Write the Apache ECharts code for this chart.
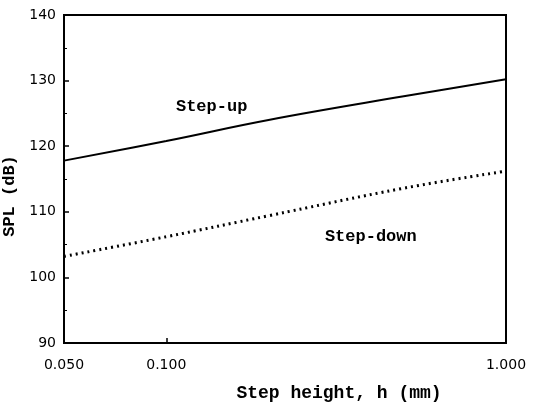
<!DOCTYPE html>
<html><head><meta charset="utf-8">
<script src="https://cdn.jsdelivr.net/npm/echarts@6/dist/echarts.min.js"></script>
<style>html,body{margin:0;padding:0;background:#fff}#c{width:533px;height:407px}</style>
</head><body><div id="c"></div>
<script>
var stepHeights = [0.05, 0.1, 0.2, 0.5, 1.0];
var stepUp =   [117.8, 120.8, 124.0, 127.6, 130.2];
var stepDown = [103.2, 106.2, 109.4, 113.6, 116.2];
var xTicks = [0.05, 0.1, 1.0];
var yTicks = [90, 100, 110, 120, 130, 140];

var chart = echarts.init(document.getElementById('c'));
var txt = {color:'#000', fontFamily:'Liberation Mono', fontWeight:'bold', fontSize:17};
chart.setOption({
  animation:false,
  grid:{left:64, right:27, top:15, bottom:64, show:true, borderColor:'#000', borderWidth:2,
    outerBoundsMode:'none', containLabel:false},
  xAxis:{type:'log', min:0.05, max:1, logBase:10,
    name:'Step height, h (mm)', nameLocation:'middle', nameGap:41,
    nameTextStyle:Object.assign({}, txt, {fontSize:18, padding:[0,0,0,108]}),
    axisLine:{lineStyle:{color:'#000', width:2}},
    axisTick:{inside:true, length:5, customValues:xTicks, lineStyle:{color:'#000', width:1.5}},
    minorTick:{show:false},
    splitLine:{show:false},
    axisLabel:{customValues:xTicks, color:'#000', fontFamily:'DejaVu Sans', fontSize:14, margin:15,
      formatter:function(v){return Number(v).toFixed(3);}}
  },
  yAxis:{type:'value', min:90, max:140, interval:10,
    name:'SPL (dB)', nameLocation:'middle', nameGap:37, nameRotate:90,
    nameTextStyle:Object.assign({}, txt, {fontSize:17, padding:[0,34,0,0]}),
    axisLine:{show:true, lineStyle:{color:'#000', width:2}},
    axisTick:{inside:true, length:5, lineStyle:{color:'#000', width:1.5}},
    minorTick:{show:true, splitNumber:2, length:3, lineStyle:{color:'#000'}},
    splitLine:{show:false},
    axisLabel:{color:'#000', fontFamily:'DejaVu Sans', fontSize:14, margin:8}
  },
  series:[
    {name:'Step-up', type:'line', data:stepHeights.map(function(h,i){return [h, stepUp[i]];}),
      smooth:0.4, symbol:'none', lineStyle:{color:'#000', width:2},
      markPoint:{symbol:'rect', symbolSize:0, data:[{coord:[0.136, 126.0], label:Object.assign({show:true, formatter:'Step-up', position:'inside'}, txt)}]}},
    {name:'Step-down', type:'line', data:stepHeights.map(function(h,i){return [h, stepDown[i]];}),
      smooth:0.4, symbol:'none', lineStyle:{color:'#000', width:3, type:[2,4]},
      markPoint:{symbol:'rect', symbolSize:0, data:[{coord:[0.40, 106.2], label:Object.assign({show:true, formatter:'Step-down', position:'inside'}, txt)}]}}
  ]
});
</script></body></html>
